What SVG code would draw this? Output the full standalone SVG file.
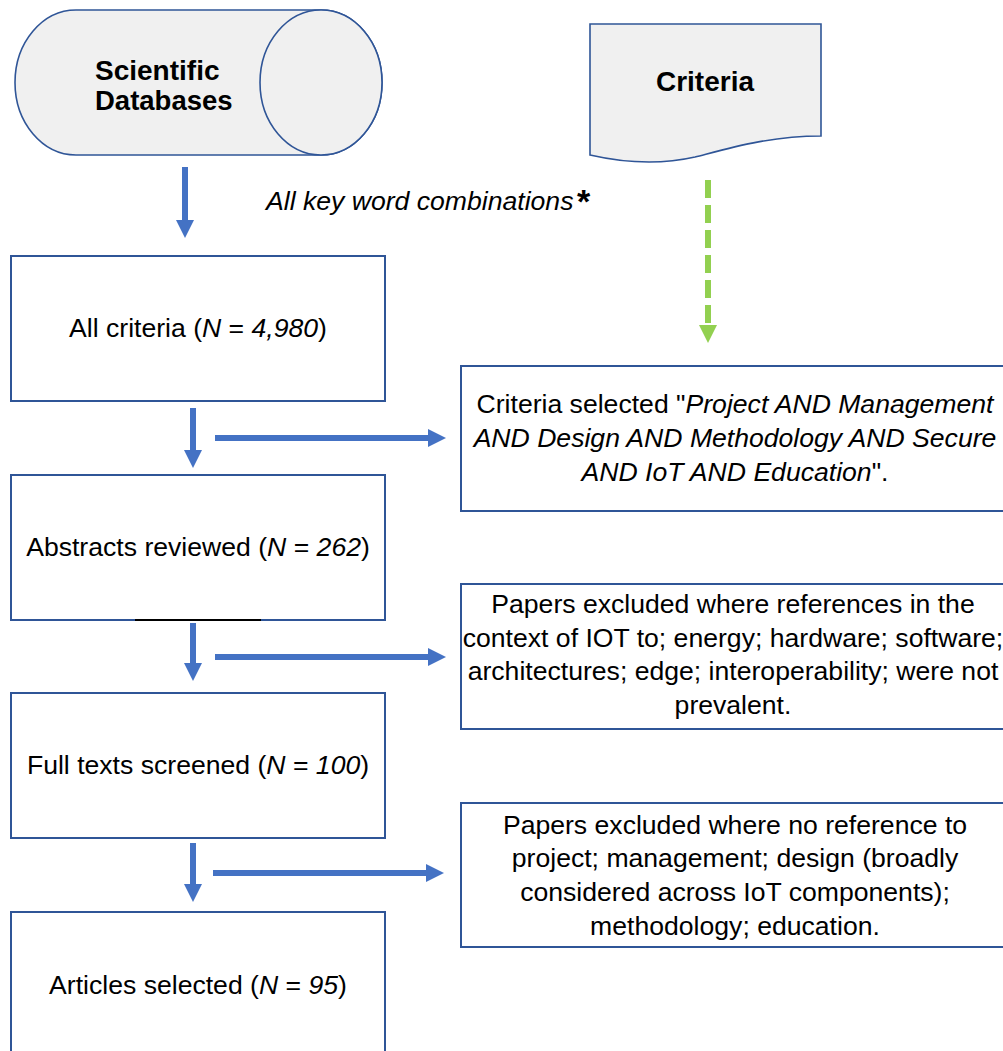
<svg xmlns="http://www.w3.org/2000/svg" width="1003" height="1051" viewBox="0 0 1003 1051">
<defs>
<style>
.box{fill:#ffffff;stroke:#2f5597;stroke-width:2}
.shape{fill:#f0f0f0;stroke:#2f5597;stroke-width:1.6}
.t{font-family:"Liberation Sans",Arial,sans-serif;font-size:26.6px;fill:#000}
.b{font-family:"Liberation Sans",Arial,sans-serif;font-size:28px;font-weight:bold;fill:#000}
.i{font-style:italic}
.c{text-anchor:middle}
.arr{stroke:#4472c4;stroke-width:6;fill:none;marker-end:url(#ah)}
.garr{stroke:#92d050;stroke-width:6;fill:none;stroke-dasharray:18 7;marker-end:url(#gh)}
</style>
<marker id="ah" viewBox="0 0 3 3" refX="0" refY="1.5" markerWidth="3" markerHeight="3" orient="auto" markerUnits="strokeWidth">
<path d="M0,0 L3,1.5 L0,3 Z" fill="#4472c4"/>
</marker>
<marker id="gh" viewBox="0 0 3 3" refX="0" refY="1.5" markerWidth="3" markerHeight="3" orient="auto" markerUnits="strokeWidth">
<path d="M0,0 L3,1.5 L0,3 Z" fill="#92d050"/>
</marker>
</defs>
<rect width="1003" height="1051" fill="#ffffff"/>

<g id="scientific-databases">
<path class="shape" d="M76,10 H321 A61,72.5 0 0 1 321,155 H76 A61,72.5 0 0 1 76,10 Z"/>
<ellipse class="shape" cx="321" cy="82.5" rx="61" ry="72.5"/>
<text class="b" x="95" y="80">Scientific</text>
<text class="b" x="95" y="110" style="font-size:27.5px">Databases</text>
</g>

<g id="criteria">
<path class="shape" d="M590,24 H821 V136 C770,136 730,148 695,157 C660,165 625,163 590,155 Z"/>
<text class="b c" x="705" y="91">Criteria</text>
</g>

<g id="keyword-label">
<text class="t i" x="266" y="210">All key word combinations</text>
<text class="b" x="577" y="213" style="font-size:34px">*</text>
</g>

<g id="all-criteria">
<rect class="box" x="11" y="256" width="374" height="145"/>
<text class="t c" x="198" y="337">All criteria (<tspan class="i">N</tspan> = <tspan class="i">4,980</tspan>)</text>
</g>

<g id="abstracts-reviewed">
<rect class="box" x="11" y="475" width="374" height="145"/>
<line x1="135" y1="620" x2="261" y2="620" stroke="#000" stroke-width="2"/>
<text class="t c" x="198" y="556">Abstracts reviewed (<tspan class="i">N</tspan> = <tspan class="i">262</tspan>)</text>
</g>

<g id="full-texts">
<rect class="box" x="11" y="693" width="374" height="145"/>
<text class="t c" x="198" y="774">Full texts screened (<tspan class="i">N</tspan> = <tspan class="i">100</tspan>)</text>
</g>

<g id="articles-selected">
<rect class="box" x="11" y="912" width="374" height="160"/>
<text class="t c" x="198" y="994">Articles selected (<tspan class="i">N</tspan> = <tspan class="i">95</tspan>)</text>
</g>

<g id="criteria-selected">
<rect class="box" x="461" y="366" width="560" height="145"/>
<text class="t c" x="735" y="413">Criteria selected "<tspan class="i">Project AND Management</tspan></text>
<text class="t c i" x="735" y="447">AND Design AND Methodology AND Secure</text>
<text class="t c" x="735" y="481"><tspan class="i">AND IoT AND Education</tspan>".</text>
</g>

<g id="excluded-1">
<rect class="box" x="461" y="584" width="560" height="145"/>
<text class="t c" x="733" y="613">Papers excluded where references in the</text>
<text class="t c" x="733" y="647">context of IOT to; energy; hardware; software;</text>
<text class="t c" x="733" y="680">architectures; edge; interoperability; were not</text>
<text class="t c" x="733" y="714">prevalent.</text>
</g>

<g id="excluded-2">
<rect class="box" x="461" y="803" width="560" height="144"/>
<text class="t c" x="735" y="834">Papers excluded where no reference to</text>
<text class="t c" x="735" y="867">project; management; design (broadly</text>
<text class="t c" x="735" y="901">considered across IoT components);</text>
<text class="t c" x="735" y="935">methodology; education.</text>
</g>

<g id="connectors">
<line class="arr" x1="185" y1="167" x2="185" y2="220"/>
<line class="garr" x1="708" y1="180" x2="708" y2="325"/>
<line class="arr" x1="193" y1="408" x2="193" y2="450"/>
<line class="arr" x1="215" y1="438" x2="428" y2="438"/>
<line class="arr" x1="193" y1="623" x2="193" y2="663"/>
<line class="arr" x1="215" y1="657" x2="428" y2="657"/>
<line class="arr" x1="193" y1="843" x2="193" y2="884"/>
<line class="arr" x1="213" y1="873" x2="426" y2="873"/>
</g>
</svg>
